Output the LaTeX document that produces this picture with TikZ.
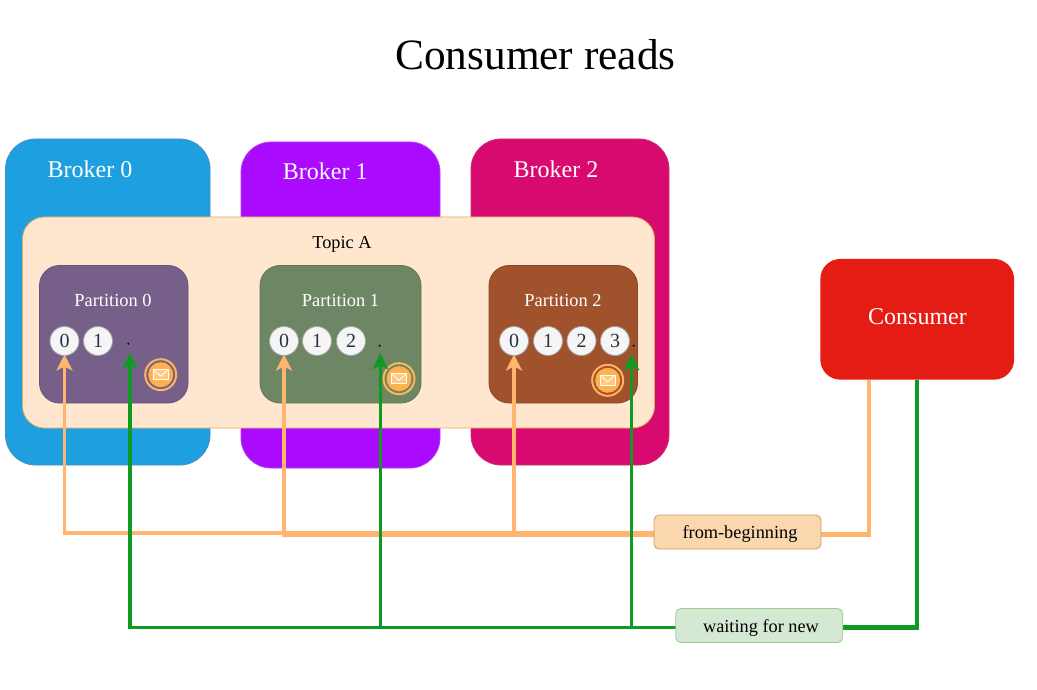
\documentclass[tikz,border=0pt]{standalone}
\usepackage{fontspec}
\setmainfont{Liberation Serif}
\usetikzlibrary{arrows.meta,calc}
\definecolor{bzero}{HTML}{1E9FDF}
\definecolor{bzeroL}{HTML}{4A90C0}
\definecolor{bone}{HTML}{AA0BFF}
\definecolor{boneL}{HTML}{B040F0}
\definecolor{btwo}{HTML}{D80A6F}
\definecolor{btwoL}{HTML}{C83070}
\definecolor{topicF}{HTML}{FFE6CF}
\definecolor{topicL}{HTML}{E0AE5A}
\definecolor{pzero}{HTML}{76608A}
\definecolor{pzeroL}{HTML}{65557A}
\definecolor{pone}{HTML}{6D8764}
\definecolor{poneL}{HTML}{5E7656}
\definecolor{ptwo}{HTML}{A0522D}
\definecolor{ptwoL}{HTML}{8A4526}
\definecolor{consF}{HTML}{E51C14}
\definecolor{orangeL}{HTML}{FFB570}
\definecolor{greenL}{HTML}{0F9A24}
\definecolor{fromF}{HTML}{FAD7AC}
\definecolor{fromL}{HTML}{D79B5A}
\definecolor{waitF}{HTML}{D5E8D4}
\definecolor{waitL}{HTML}{9CCB8C}
\definecolor{digitF}{HTML}{F5F5F5}
\definecolor{digitL}{HTML}{A0A4A4}
\definecolor{digitT}{HTML}{26323F}
\definecolor{mailF}{HTML}{FFB14E}
\definecolor{mailL}{HTML}{FFB35C}
\tikzset{
  x=1pt,y=-1pt,
  box/.style={draw,inner sep=0pt,outer sep=0pt,line width=.8pt},
  broker/.style={box,rounded corners=30pt,minimum height=326pt},
  part/.style={box,rounded corners=20pt,minimum height=137.5pt},
  bigtxt/.style={text=white,font=\fontsize{24}{28}\selectfont,anchor=base,inner sep=0pt},
  parttxt/.style={text=white,font=\fontsize{18.4}{22}\selectfont,anchor=base,inner sep=0pt},
  digit/.style={circle,draw=digitL,fill=digitF,line width=.8pt,minimum size=29pt,inner sep=0pt,outer sep=0pt,
    text=digitT,font=\fontsize{20}{24}\selectfont},
  dotmark/.style={inner sep=0pt,outer sep=0pt,circle,fill=black,minimum size=2.2pt},
  tag/.style={box,rounded corners=5pt,minimum width=167pt,minimum height=34pt},
  tagtxt/.style={inner sep=0pt,anchor=base,font=\fontsize{18.3}{22}\selectfont},
  oline/.style={draw=orangeL,line width=3.3pt},
  gline/.style={draw=greenL,line width=3.3pt},
  otip/.style={oline,-{Stealth[length=16pt,width=16pt,inset=4pt]}},
  gtip/.style={gline,-{Stealth[length=16pt,width=16pt,inset=4pt]}},
  mailicon/.pic={
    \draw[mailL,line width=2pt] (0,0) circle[radius=15.5];
    \fill[mailF] (0,0) circle[radius=12.5];
    \fill[white,fill opacity=.3] (-7.5,-5) rectangle (7.5,5);
    \draw[white,line width=.8pt,line join=round] (-7.5,-5) rectangle (7.5,5);
    \draw[white,line width=.8pt,line join=round] (-7.5,-5) -- (0,1.5) -- (7.5,-5);
  }
}
\begin{document}
\begin{tikzpicture}
\useasboundingbox[fill=white] (0,0) rectangle (1037,690);
\node[inner sep=0pt,anchor=base,font=\fontsize{43.3}{50}\selectfont] (title) at (535.5,70) {Consumer reads};
% brokers
\node[broker,fill=bzero,draw=bzeroL,minimum width=204.5pt] (b0) at (107.75,302) {};
\node[broker,fill=bone,draw=boneL,minimum width=199pt] (b1) at (340.5,305) {};
\node[broker,fill=btwo,draw=btwoL,minimum width=198pt] (b2) at (570,302) {};
\node[bigtxt] (b0t) at (90,178) {Broker 0};
\node[bigtxt] (b1t) at (325.3,180) {Broker 1};
\node[bigtxt] (b2t) at (556,178) {Broker 2};
% topic
\node[box,rounded corners=22pt,fill=topicF,draw=topicL,minimum width=632pt,minimum height=211pt] (topic) at (338.5,322.5) {};
\node[inner sep=0pt,anchor=base,font=\fontsize{18.3}{22}\selectfont] (topict) at (342,248) {Topic A};
% partitions
\node[part,fill=pzero,draw=pzeroL,minimum width=148.5pt] (p0) at (113.75,334.25) {};
\node[part,fill=pone,draw=poneL,minimum width=161pt] (p1) at (340.5,334.25) {};
\node[part,fill=ptwo,draw=ptwoL,minimum width=148.5pt] (p2) at (563.25,334.25) {};
\node[parttxt] (p0t) at (113,306) {Partition 0};
\node[parttxt] (p1t) at (340.5,306) {Partition 1};
\node[parttxt] (p2t) at (563,306) {Partition 2};
% offsets
\node[digit] (a0) at (64.5,341) {0};
\node[digit] (a1) at (98,341) {1};
\node[digit] (c0) at (284,341) {0};
\node[digit] (c1) at (317,341) {1};
\node[digit] (c2) at (351,341) {2};
\node[digit] (e0) at (514,341) {0};
\node[digit] (e1) at (548,341) {1};
\node[digit] (e2) at (581.5,341) {2};
\node[digit] (e3) at (615,341) {3};
\node[dotmark] (d0) at (128.3,343.8) {};
\node[dotmark] (d1) at (379.7,345.7) {};
\node[dotmark] (d2) at (633.7,345.7) {};
% mail icons
\pic at (160.7,374.7) {mailicon};
\pic at (399,378.7) {mailicon};
\pic at (607.7,380.3) {mailicon};
% consumer
\node[box,draw=none,rounded corners=20pt,fill=consF,minimum width=193.7pt,minimum height=120.7pt] (consumer) at (917.2,319.3) {};
\node[bigtxt] (const) at (917.5,324) {Consumer};
% connectors
\path (737.5,532) node[tag,draw=none] (fromb0) {};
\path (759.25,625.5) node[tag,draw=none] (wait0) {};
\draw[oline,line width=4.5pt] ([xshift=-48.2pt]consumer.south) |- ([yshift=-2.5pt]fromb0.east);
\draw[otip] ([yshift=-1pt]fromb0.west) -| ([yshift=1pt]a0.south);
\draw[otip] ([yshift=-3pt]fromb0.west) -| ([yshift=1pt]c0.south);
\draw[otip] ([yshift=-3pt]fromb0.west) -| ([yshift=1pt]e0.south);
\draw[gline,line width=4.5pt] (consumer.south) |- ([yshift=-2pt]wait0.east);
\draw[gtip] ([yshift=-2pt]wait0.west) -| ([shift={(1.7pt,-8pt)}]d0.south);
\draw[gtip] ([yshift=-2pt]wait0.west) -| ([shift={(.6pt,-6.5pt)}]d1.south);
\draw[gtip] ([yshift=-2pt]wait0.west) -| ([shift={(-2.4pt,-7.5pt)}]d2.south);
\node[tag,fill=fromF,draw=fromL] (fromb) at (fromb0) {};
\node[tag,fill=waitF,draw=waitL] (wait) at (wait0) {};
\node[tagtxt] (fromt) at (740,538) {from-beginning};
\node[tagtxt] (waitt) at (761,632) {waiting for new};
\end{tikzpicture}
\end{document}
